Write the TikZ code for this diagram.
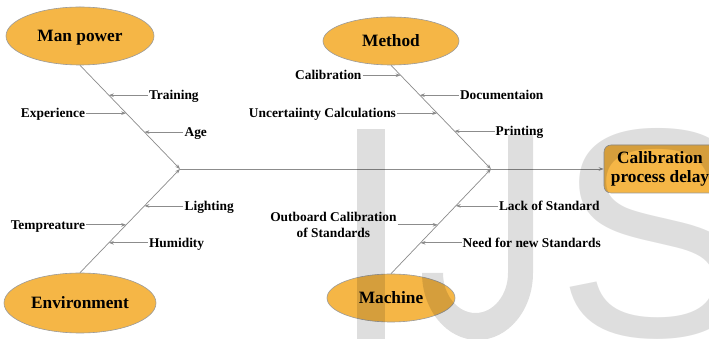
\documentclass[tikz,border=0pt]{standalone}
\usepackage{fontspec}
\setmainfont{Liberation Serif}
\newfontfamily\wmfont{Liberation Sans}
\usetikzlibrary{arrows.meta,shapes.geometric,calc}
\definecolor{myorange}{HTML}{F5B646}
\definecolor{linegray}{HTML}{8C8C8C}
\definecolor{edgegray}{HTML}{9A9A9A}
\begin{document}
\begin{tikzpicture}[x=1pt,y=1pt,
  cat/.style={ellipse, draw=edgegray, fill=myorange, line width=0.6pt, inner sep=0pt,
              text height=11.5pt, text depth=0pt,
              font=\fontsize{17.3}{20}\selectfont\bfseries},
  cause/.style={inner sep=1pt, text height=9pt, text depth=0pt,
              font=\fontsize{13.4}{16}\selectfont\bfseries},
  bone/.style={draw=linegray, line width=0.7pt, -{Stealth[length=5pt,width=3.6pt]}},
  effect/.style={draw=edgegray, fill=myorange, line width=0.6pt, rounded corners=7pt,
              minimum width=124pt, minimum height=48pt, inner sep=0pt},
  efftext/.style={inner sep=0pt, align=center,
              font=\fontsize{17.3}{19.5}\selectfont\bfseries},
  wmark/.style={fill=black, fill opacity=0.13, draw=none}
  ]
\useasboundingbox (0,0) rectangle (709,339);
\fill[white] (0,0) rectangle (709,339);

\begin{scope}
\clip (0,0) rectangle (709,339);
% categories
\node[cat, minimum width=148pt, minimum height=58pt] (mp) at (80,303) {Man power};
\node[cat, minimum width=152pt, minimum height=60pt] (env) at (80,36) {Environment};
\node[cat, minimum width=136pt, minimum height=48pt] (meth) at (391,298) {Method};
\node[cat, minimum width=128pt, minimum height=48pt] (mach) at (391,41) {Machine};
\node[effect] (eff) at (666,170) {};
\node[efftext] (efft) at (660,170) {Calibration\\process delay};

% spine points
\coordinate (j1) at (180,170);
\coordinate (j2) at (491,170);

% bones
\draw[bone] (mp.south) -- (j1);
\draw[bone] (env.north) -- (j1);
\draw[bone] (meth.south) -- (j2);
\draw[bone] (mach.north) -- (j2);
\draw[bone] (j1) -- (eff.west);

% points on bones
\coordinate (pTr) at ($(mp.south)!0.2885!(j1)$);
\coordinate (pEx) at ($(mp.south)!0.4615!(j1)$);
\coordinate (pAg) at ($(mp.south)!0.644!(j1)$);
\coordinate (pLi) at ($(env.north)!0.644!(j1)$);
\coordinate (pTe) at ($(env.north)!0.4615!(j1)$);
\coordinate (pHu) at ($(env.north)!0.2885!(j1)$);
\coordinate (pCa) at ($(meth.south)!0.096!(j2)$);
\coordinate (pDo) at ($(meth.south)!0.2885!(j2)$);
\coordinate (pUn) at ($(meth.south)!0.4615!(j2)$);
\coordinate (pPr) at ($(meth.south)!0.635!(j2)$);
\coordinate (pLa) at ($(mach.north)!0.648!(j2)$);
\coordinate (pOu) at ($(mach.north)!0.467!(j2)$);
\coordinate (pNe) at ($(mach.north)!0.295!(j2)$);

% cause labels
\node[cause, anchor=west] (tr) at ($(pTr)+(39,0)$) {Training};
\node[cause, anchor=east] (ex) at ($(pEx)+(-40,0)$) {Experience};
\node[cause, anchor=west] (ag) at ($(pAg)+(39,0)$) {Age};
\node[cause, anchor=west] (li) at ($(pLi)+(39,0)$) {Lighting};
\node[cause, anchor=east] (te) at ($(pTe)+(-40,0)$) {Tempreature};
\node[cause, anchor=west] (hu) at ($(pHu)+(39,0)$) {Humidity};
\node[cause, anchor=east] (ca) at ($(pCa)+(-38,0)$) {Calibration};
\node[cause, anchor=west] (do) at ($(pDo)+(39,0)$) {Documentaion};
\node[cause, anchor=east] (un) at ($(pUn)+(-40,0)$) {Uncertaiinty Calculations};
\node[cause, anchor=west] (pr) at ($(pPr)+(40,0)$) {Printing};
\node[cause, anchor=west] (la) at ($(pLa)+(42,0)$) {Lack of Standard};
\node[inner sep=1pt, align=center, anchor=east, font=\fontsize{13.4}{16}\selectfont\bfseries]
  (ou) at ($(pOu)+(-40,0)$) {Outboard Calibration\\of Standards};
\node[cause, anchor=west] (ne) at ($(pNe)+(41,0)$) {Need for new Standards};

\draw[bone] (tr.west) -- (pTr);
\draw[bone] (ex.east) -- (pEx);
\draw[bone] (ag.west) -- (pAg);
\draw[bone] (li.west) -- (pLi);
\draw[bone] (te.east) -- (pTe);
\draw[bone] (hu.west) -- (pHu);
\draw[bone] (ca.east) -- (pCa);
\draw[bone] (do.west) -- (pDo);
\draw[bone] (un.east) -- (pUn);
\draw[bone] (pr.west) -- (pPr);
\draw[bone] (la.west) -- (pLa);
\draw[bone] (ou.east) -- (pOu);
\draw[bone] (ne.west) -- (pNe);

% watermark "IJS"
\path[wmark] (357,-2) rectangle (385,210);
\path[wmark] (508,204) -- (533,204) -- (533,66)
   arc[start angle=0, end angle=-180, x radius=55.5, y radius=67]
   -- (443,66)
   arc[start angle=180, end angle=360, x radius=32.5, y radius=40]
   -- cycle;
\node[anchor=base west, inner sep=0pt, opacity=0.13,
      font=\wmfont\fontsize{298}{298}\selectfont] (wmS) at (556,2) {S};
\end{scope}
\end{tikzpicture}
\end{document}
